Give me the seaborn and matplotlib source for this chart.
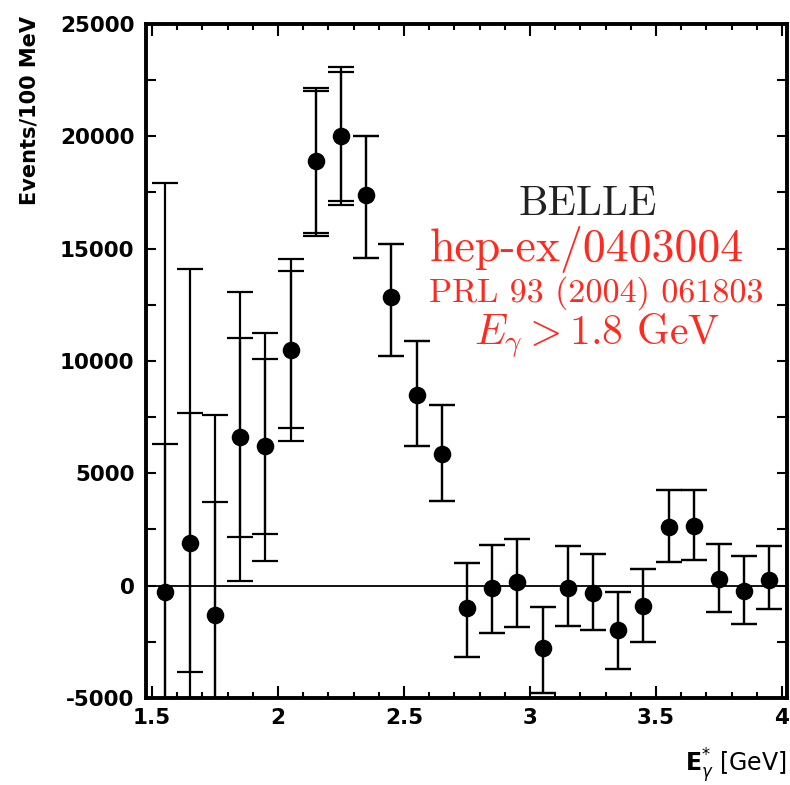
import numpy as np
import pandas as pd
import seaborn as sns
import matplotlib.pyplot as plt
from matplotlib.ticker import MultipleLocator, FuncFormatter

# photon energy bins (GeV) and yields per 100 MeV
energy = [1.55, 1.65, 1.75, 1.85, 1.95, 2.05, 2.15, 2.25, 2.35, 2.45, 2.55, 2.65, 2.75,
          2.85, 2.95, 3.05, 3.15, 3.25, 3.35, 3.45, 3.55, 3.65, 3.75, 3.85, 3.95]
events = [-300, 1900, -1300, 6600, 6200, 10500, 18900, 20000, 17400, 12850, 8500, 5850, -1000,
          -100, 150, -2800, -100, -350, -2000, -900, 2600, 2650, 300, -250, 250]

# outer (total) error band limits
outer_hi = [17900, 14100, 7600, 13050, 11250, 14550, 22150, 23100, 20000, 15200, 10900, 8050, 1000,
            1800, 2050, -950, 1750, 1400, -300, 750, 4250, 4250, 1850, 1300, 1750]
outer_lo = [-9000, -9000, -9000, 200, 1100, 6450, 15550, 16950, 14600, 10200, 6200, 3750, -3200,
            -2100, -1850, -4800, -1800, -2000, -3700, -2500, 1050, 1150, -1200, -1700, -1050]
# inner (statistical) error limits
inner_hi = [6300, 7700, 3700, 11000, 10100, 14000, 22000, 22850, 20000, 15200, 10900, 8050, 1000,
            1800, 2050, -950, 1750, 1400, -300, 750, 4250, 4250, 1850, 1300, 1750]
inner_lo = [-9000, -3850, -9000, 2150, 2300, 7000, 15700, 17100, 14600, 10200, 6200, 3750, -3200,
            -2100, -1850, -4800, -1800, -2000, -3700, -2500, 1050, 1150, -1200, -1700, -1050]

x_ticks = [1.5, 2, 2.5, 3, 3.5, 4]
y_ticks = [-5000, 0, 5000, 10000, 15000, 20000, 25000]

df = pd.DataFrame({"E": energy, "N": events,
                   "ohi": outer_hi, "olo": outer_lo,
                   "ihi": inner_hi, "ilo": inner_lo})

sns.set_theme(style="ticks")
plt.rcParams["font.family"] = ["DejaVu Sans"]
plt.rcParams["axes.unicode_minus"] = False
plt.rcParams["text.color"] = "black"
plt.rcParams["axes.labelcolor"] = "black"
plt.rcParams["xtick.color"] = "black"
plt.rcParams["ytick.color"] = "black"

fig = plt.figure(figsize=(7.9, 7.85), dpi=100)
ax = fig.add_axes([0.1842, 0.111, 0.812, 0.8586])

ax.axhline(0, color="black", lw=1.3, zorder=1)

ax.errorbar(df["E"], df["N"], yerr=[df["N"] - df["olo"], df["ohi"] - df["N"]],
            fmt="none", ecolor="black", elinewidth=1.6, capsize=9.5, capthick=1.6, zorder=2)
ax.errorbar(df["E"], df["N"], yerr=[df["N"] - df["ilo"], df["ihi"] - df["N"]],
            fmt="none", ecolor="black", elinewidth=1.6, capsize=9.5, capthick=1.6, zorder=2)
sns.scatterplot(data=df, x="E", y="N", s=160, color="black", edgecolor="black",
                linewidth=0, zorder=3, ax=ax)

ax.set_xlim(1.474, 4.02)
ax.set_ylim(-5000, 25000)
ax.set_xticks(x_ticks)
ax.set_yticks(y_ticks)
ax.xaxis.set_minor_locator(MultipleLocator(0.1))
ax.yaxis.set_minor_locator(MultipleLocator(2500))
ax.xaxis.set_major_formatter(FuncFormatter(lambda v, p: "%g" % v))
ax.yaxis.set_major_formatter(FuncFormatter(lambda v, p: "%d" % v))

ax.tick_params(which="both", direction="in", top=True, right=True, width=1.5,
               color="black", labelcolor="black")
ax.tick_params(axis="x", which="major", length=8.5, labelsize=15.5, pad=7)
ax.tick_params(axis="x", which="minor", length=4)
ax.tick_params(axis="y", which="both", length=7, labelsize=15.5, pad=8)
for lab in ax.get_xticklabels() + ax.get_yticklabels():
    lab.set_fontweight("bold")

for s in ax.spines.values():
    s.set_linewidth(2.8)
    s.set_color("black")

ax.set_ylabel("Events/100 MeV", fontsize=15, fontweight="bold", color="black")
ax.yaxis.set_label_coords(-0.165, 0.872)
ax.set_xlabel(r"$\mathbf{E}^{*}_{\gamma}$ [GeV]", fontsize=17, color="black",
              math_fontfamily="dejavusans")
ax.xaxis.set_label_coords(1.0, -0.072)
ax.xaxis.label.set_horizontalalignment("right")

red = "#ff2a1f"
ax.text(0.69, 0.733, "BELLE", transform=ax.transAxes, ha="center", va="center",
        fontsize=30, family="cmr10", color="#222222")
ax.text(0.688, 0.665, "hep-ex/0403004", transform=ax.transAxes, ha="center", va="center",
        fontsize=33, family="cmr10", color=red)
ax.text(0.703, 0.6, "PRL 93 (2004) 061803", transform=ax.transAxes, ha="center", va="center",
        fontsize=24.5, family="cmr10", color=red)
ax.text(0.704, 0.538, r"$E_\gamma > 1.8$ GeV", transform=ax.transAxes, ha="center", va="center",
        fontsize=30, family="cmr10", color=red, math_fontfamily="cm")

fig.savefig("out.png", dpi=100)
